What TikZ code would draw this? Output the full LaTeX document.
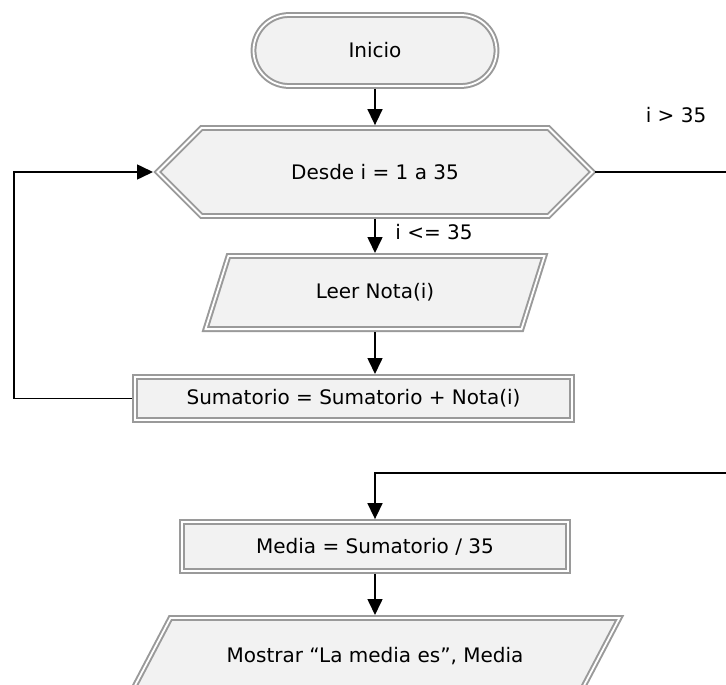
\documentclass[tikz,border=0pt]{standalone}
\usepackage{fontspec}
\setmainfont{DejaVu Sans}
\usetikzlibrary{shapes.misc,arrows.meta,backgrounds}
\definecolor{dgray}{HTML}{9A9A9A}
\definecolor{lgray}{HTML}{F2F2F2}
\newcommand\paraoutline[2]{%
  \draw[dbl] ([xshift=#2]#1.north west) -- ([xshift=#2]#1.north east)
    -- ([xshift=-#2]#1.south east) -- ([xshift=-#2]#1.south west) -- cycle;}
\begin{document}
\begin{tikzpicture}[x=1pt,y=-1pt,
  dbl/.style={draw=dgray, line width=2pt, double=white, double distance=1.8pt, fill=lgray},
  txt/.style={font=\fontsize{20}{24}\selectfont, inner sep=0pt, outer sep=0pt},
  conn/.style={draw=black, line width=1.6pt, shorten <=2.9pt},
  arr/.style={conn, -{Triangle[length=16pt,width=15pt]}, shorten >=2.9pt}]
\useasboundingbox (0,0) rectangle (726,685);
\clip (0,0) rectangle (726,685);

\node[dbl, txt, rectangle, rounded corners=35.5pt, minimum width=243pt, minimum height=71pt] (inicio) at (375,50.5) {Inicio};
\node[dbl, txt, chamfered rectangle, chamfered rectangle xsep=48pt, chamfered rectangle ysep=36.25pt, minimum width=435pt, minimum height=72.5pt] (desde) at (375,172) {Desde i = 1 a 35};
\node[txt, minimum width=316pt, minimum height=73.2pt] (leer) at (375,292.5) {Leer Nota(i)};
\node[dbl, txt, minimum width=437.2pt, minimum height=43.2pt] (sum) at (353.5,398.5) {Sumatorio = Sumatorio + Nota(i)};
\node[dbl, txt, minimum width=386pt, minimum height=49pt] (media) at (375,546.5) {Media = Sumatorio / 35};
\node[txt, minimum width=449pt, minimum height=76.2pt] (most) at (375,656) {Mostrar “La media es”, Media};

\node[txt] (lgt) at (676,115) {i > 35};
\node[txt] (lle) at (434,232) {i <= 35};

\begin{scope}[on background layer]
  \clip (0,0) rectangle (726,685);
  \paraoutline{leer}{11.5pt}
  \paraoutline{most}{20pt}
\end{scope}

\coordinate (lp) at (14,400);
\coordinate (rj) at (760,473);
\coordinate (mj) at (375,473);

\draw[arr] (inicio.south) -- (desde.north);
\draw[arr] (desde.south) -- (leer.north);
\draw[arr] (leer.south) -- (leer.south |- sum.north);
\draw[arr, shorten >=4.5pt] (sum.west) -- (sum.west -| lp) |- (desde.west);
\draw[arr] (desde.east) -| (rj) -- (mj) -- (media.north);
\draw[arr] (media.south) -- (most.north);
\end{tikzpicture}
\end{document}
